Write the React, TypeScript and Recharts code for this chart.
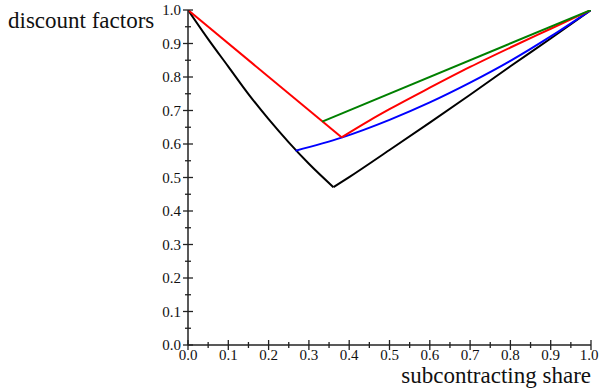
import React from 'react';
import { LineChart, Line, XAxis, YAxis, Label } from 'recharts';

// values
const blackLeftX = [0, 0.05, 0.1, 0.15, 0.2, 0.25, 0.3, 0.361];
const blackLeftY = [1, 0.913, 0.831, 0.749, 0.674, 0.605, 0.541, 0.471];
const blackRightX = [0.361, 0.4, 0.5, 0.6, 0.7, 0.8, 0.9, 1];
const blackRightY = [0.471, 0.501, 0.582, 0.664, 0.747, 0.832, 0.915, 1];
const blueX = [0.267, 0.381, 0.5, 0.6, 0.7, 0.8, 0.9, 1];
const blueY = [0.58, 0.619, 0.672, 0.724, 0.783, 0.848, 0.921, 1];
const redLeftX = [0, 0.381];
const redLeftY = [1, 0.62];
const redRightX = [0.381, 0.45, 0.5, 0.6, 0.7, 0.8, 0.9, 1];
const redRightY = [0.62, 0.67, 0.704, 0.768, 0.83, 0.888, 0.944, 1];
const greenX = [0.333, 1];
const greenY = [0.667, 1];

const tickValues = [
	0, 0.05, 0.1, 0.15, 0.2, 0.25, 0.3, 0.35, 0.4, 0.45, 0.5,
	0.55, 0.6, 0.65, 0.7, 0.75, 0.8, 0.85, 0.9, 0.95, 1,
];

const FONT = "'Liberation Serif', 'DejaVu Serif', serif";
const AXIS = '#222';
const tickText = { fontFamily: FONT, fontSize: 15, fill: '#111' };
const titleText = { fontFamily: FONT, fontSize: 23, fill: '#111' };

function zip(xs: number[], ys: number[]) {
	return xs.map((x, i) => ({ x, y: ys[i] }));
}

const isMajor = (v: number) => Math.round(v * 100) % 10 === 0;

function YTick(props: any) {
	const { x, y, payload } = props;
	const v = payload.value as number;
	const major = isMajor(v);
	const len = major ? 5 : 3;
	return (
		<g>
			<line x1={x - len} x2={x + len} y1={y} y2={y} stroke={AXIS} strokeWidth={1.3} />
			{major && (
				<text x={x - 7} y={y} dy="0.35em" textAnchor="end" style={tickText}>
					{v.toFixed(1)}
				</text>
			)}
		</g>
	);
}

function XTick(props: any) {
	const { x, y, payload } = props;
	const v = payload.value as number;
	const major = isMajor(v);
	const len = major ? 5 : 3;
	// the last label is pulled in a little so it stays inside the frame
	const tx = v === 1 ? x - 2 : x;
	return (
		<g>
			<line x1={x} x2={x} y1={y - len} y2={y + len} stroke={AXIS} strokeWidth={1.3} />
			{major && (
				<text x={tx} y={y + 15} textAnchor="middle" style={tickText}>
					{v.toFixed(1)}
				</text>
			)}
		</g>
	);
}

export default function App() {
	return (
		<div style={{ position: 'absolute', left: 0, top: 0, width: 600, height: 389, background: '#fff' }}>
			<LineChart width={600} height={389} margin={{ top: 10, right: 9, bottom: 0, left: 0 }}>
				<XAxis
					dataKey="x"
					type="number"
					domain={[0, 1]}
					ticks={tickValues}
					interval={0}
					tickSize={0}
					tickMargin={0}
					tickLine={false}
					tick={<XTick />}
					height={44}
					axisLine={{ stroke: AXIS, strokeWidth: 1.5 }}
					allowDataOverflow
				>
					<Label
						content={() => (
							<text x={591} y={383} textAnchor="end" style={titleText}>
								subcontracting share
							</text>
						)}
					/>
				</XAxis>
				<YAxis
					dataKey="y"
					type="number"
					domain={[0, 1]}
					ticks={tickValues}
					interval={0}
					tickSize={0}
					tickMargin={0}
					tickLine={false}
					tick={<YTick />}
					width={188}
					axisLine={{ stroke: AXIS, strokeWidth: 1.5 }}
					allowDataOverflow
				>
					<Label
						content={() => (
							<text x={8} y={28} textAnchor="start" style={titleText}>
								discount factors
							</text>
						)}
					/>
				</YAxis>
				<Line data={zip(blackLeftX, blackLeftY)} dataKey="y" type="monotone" stroke="#000" strokeWidth={2} dot={false} isAnimationActive={false} />
				<Line data={zip(blackRightX, blackRightY)} dataKey="y" type="monotone" stroke="#000" strokeWidth={2} dot={false} isAnimationActive={false} />
				<Line data={zip(blueX, blueY)} dataKey="y" type="monotone" stroke="#0000ff" strokeWidth={2} dot={false} isAnimationActive={false} />
				<Line data={zip(redLeftX, redLeftY)} dataKey="y" type="linear" stroke="#ff0000" strokeWidth={2} dot={false} isAnimationActive={false} />
				<Line data={zip(redRightX, redRightY)} dataKey="y" type="monotone" stroke="#ff0000" strokeWidth={2} dot={false} isAnimationActive={false} />
				<Line data={zip(greenX, greenY)} dataKey="y" type="linear" stroke="#008000" strokeWidth={2} dot={false} isAnimationActive={false} />
			</LineChart>
		</div>
	);
}
